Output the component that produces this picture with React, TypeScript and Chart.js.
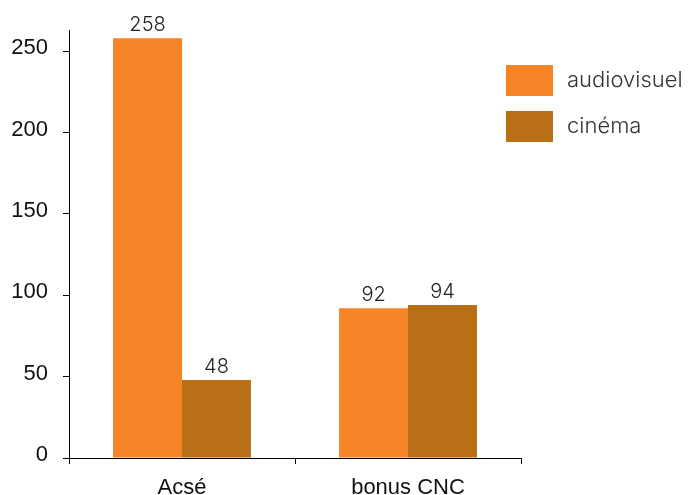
import React, { useEffect, useRef } from "react";
import { Chart, registerables } from "chart.js";

Chart.register(...registerables);

const categories = ["Acsé", "bonus CNC"];
const seriesNames = ["audiovisuel", "cinéma"];
const audiovisuel = [258, 92];
const cinema = [48, 94];
const seriesColors = ["#F58426", "#B86F15"];
const yTicks = [0, 50, 100, 150, 200, 250];

const AXIS_FONT = "'Liberation Sans', Arial, sans-serif";
const LIGHT_FONT = "Inter, Roboto, sans-serif";

const valueLabels = {
  id: "valueLabels",
  afterDatasetsDraw(chart: any) {
    const ctx = chart.ctx;
    ctx.save();
    ctx.font = `300 20px ${LIGHT_FONT}`;
    ctx.fillStyle = "#222";
    ctx.textAlign = "center";
    ctx.textBaseline = "bottom";
    chart.data.datasets.forEach((ds: any, i: number) => {
      const meta = chart.getDatasetMeta(i);
      meta.data.forEach((bar: any, j: number) => {
        ctx.fillText(String(ds.data[j]), bar.x, bar.y - 3);
      });
    });
    ctx.restore();
  },
};

const sideLegend = {
  id: "sideLegend",
  afterDraw(chart: any) {
    const ctx = chart.ctx;
    ctx.save();
    ctx.font = `300 22px ${LIGHT_FONT}`;
    ctx.textAlign = "left";
    ctx.textBaseline = "middle";
    chart.data.datasets.forEach((ds: any, i: number) => {
      const top = 65 + i * 46;
      ctx.fillStyle = ds.backgroundColor;
      ctx.fillRect(506, top, 47, 31);
      ctx.fillStyle = "#333";
      ctx.fillText(ds.label, 567, top + 15);
    });
    ctx.restore();
  },
};

export default function App() {
  const ref = useRef<HTMLCanvasElement | null>(null);
  useEffect(() => {
    document.body.style.margin = "0";
    const chart = new Chart(ref.current!, {
      type: "bar",
      data: {
        labels: categories,
        datasets: [
          { label: seriesNames[0], data: audiovisuel, backgroundColor: seriesColors[0] },
          { label: seriesNames[1], data: cinema, backgroundColor: seriesColors[1] },
        ],
      },
      options: {
        animation: false,
        responsive: false,
        maintainAspectRatio: false,
        layout: { padding: { top: 30, right: 173, left: 0, bottom: 0 } },
        datasets: { bar: { categoryPercentage: 0.61, barPercentage: 1 } },
        plugins: { legend: { display: false }, tooltip: { enabled: false } },
        scales: {
          x: {
            grid: { drawOnChartArea: false, drawTicks: true, tickLength: 6, color: "#000", offset: true },
            border: { display: true, color: "#000", width: 1 },
            ticks: { color: "#111", font: { family: AXIS_FONT, size: 22 }, padding: 11 },
            afterFit: (s: any) => { s.height = 37; },
          },
          y: {
            min: 0,
            max: 263,
            grid: { drawOnChartArea: false, drawTicks: true, tickLength: 6, color: "#000" },
            border: { display: true, color: "#000", width: 1 },
            ticks: { color: "#111", font: { family: AXIS_FONT, size: 22 }, padding: 15, labelOffset: -3 },
            afterBuildTicks: (s: any) => {
              s.ticks = yTicks.map((v) => ({ value: v }));
            },
            afterFit: (s: any) => { s.width = 69; },
          },
        },
      },
      plugins: [valueLabels, sideLegend],
    });
    return () => chart.destroy();
  }, []);
  return (
    <div style={{ position: "fixed", left: 0, top: 0, width: 694, height: 495 }}>
      <canvas ref={ref} width={694} height={495} style={{ width: 694, height: 495 }} />
    </div>
  );
}
